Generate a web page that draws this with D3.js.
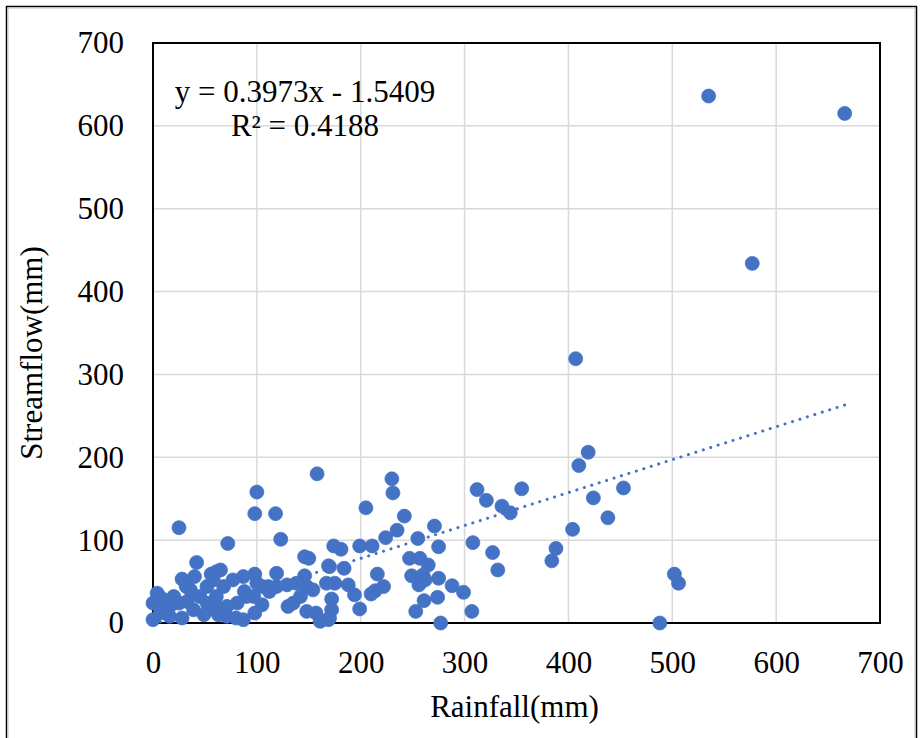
<!DOCTYPE html>
<html>
<head>
<meta charset="utf-8">
<script src="https://cdn.jsdelivr.net/npm/d3@7"></script>
<style>
  html, body { margin: 0; padding: 0; background: #fff; }
  svg, svg text { font-family: "Liberation Serif", "Times New Roman", serif !important; }
</style>
</head>
<body>
<div id="chart"></div>
<script>
// rainfall (mm)
const rainfall = [
  535, 666, 577, 407, 410, 419, 424, 438, 453, 404, 388, 384, 502, 506, 488, 355,
  230, 231, 205, 242, 235, 224, 271, 255, 275, 308, 312, 321, 336, 344, 327, 332,
  199, 211, 174, 181, 184, 170, 216, 222, 214, 210, 175, 188, 194, 199, 172, 172,
  170, 247, 257, 265, 249, 260, 262, 256, 275, 288, 299, 274, 261, 253, 307, 277,
  158, 100, 98, 118, 25, 72, 123, 42, 150, 146, 169, 119, 98, 65, 56, 40,
  28, 146, 100, 87, 77, 68, 58, 52, 32, 105, 111, 119, 129, 148, 154, 167,
  157, 148, 161, 169, 105, 98, 87, 90, 81, 71, 71, 60, 52, 49, 39, 28,
  25, 16, 16, 7, 0, 0, 4, 8, 12, 61, 36, 20, 45, 61, 97, 88,
  130, 135, 142, 138, 63, 80, 112, 33
];
// streamflow (mm), same order
const streamflow = [
  636, 615, 434, 319, 190, 206, 151, 127, 163, 113, 90, 75, 59, 48, 0, 162,
  174, 157, 139, 129, 112, 103, 117, 102, 92, 97, 161, 148, 141, 133, 85, 64,
  93, 93, 93, 89, 66, 68, 59, 44, 39, 35, 48, 46, 34, 17, 29, 16,
  6, 78, 78, 70, 57, 58, 52, 46, 54, 45, 37, 31, 27, 14, 14, 0,
  180, 158, 132, 132, 115, 96, 101, 73, 78, 80, 69, 60, 59, 64, 59, 56,
  53, 57, 48, 56, 52, 44, 52, 44, 44, 44, 44, 44, 46, 44, 40, 48,
  12, 14, 2, 4, 22, 12, 4, 32, 24, 20, 8, 16, 24, 10, 16, 6,
  24, 20, 8, 12, 4, 24, 36, 30, 16, 62, 40, 32, 32, 32, 32, 38,
  20, 24, 32, 48, 10, 6, 38, 26
];
const xTicks = [0, 100, 200, 300, 400, 500, 600, 700];
const yTicks = [0, 100, 200, 300, 400, 500, 600, 700];
const slope = 0.3973;
const intercept = -1.5409;
const eqLabel = "y = 0.3973x - 1.5409";
const r2Label = "R² = 0.4188";

const points = rainfall.map((r, i) => ({ x: r, y: streamflow[i] }));

const width = 923, height = 738;
const margin = { top: 43, right: 43, bottom: 115, left: 153 };
const blue = "#4472C4";
const serif = "'Liberation Serif', 'Times New Roman', serif";

const svg = d3.select("#chart").append("svg")
  .attr("width", width)
  .attr("height", height)
  .style("font-family", serif);

// outer frame
svg.append("rect")
  .attr("x", 6.5).attr("y", 6.5)
  .attr("width", 910).attr("height", 740)
  .attr("fill", "none").attr("stroke", "#000").attr("stroke-width", 1.5);
svg.append("rect")
  .attr("x", 8).attr("y", 8)
  .attr("width", 907).attr("height", 740)
  .attr("fill", "none").attr("stroke", "#bfbfbf").attr("stroke-width", 1);

const x = d3.scaleLinear().domain([0, 700]).range([margin.left, width - margin.right]);
const y = d3.scaleLinear().domain([0, 700]).range([height - margin.bottom, margin.top]);

// gridlines
svg.append("g").selectAll("line")
  .data(xTicks)
  .join("line")
  .attr("x1", d => x(d)).attr("x2", d => x(d))
  .attr("y1", y(0)).attr("y2", y(700))
  .attr("stroke", "#d9d9d9").attr("stroke-width", 1.5);
svg.append("g").selectAll("line")
  .data(yTicks)
  .join("line")
  .attr("x1", x(0)).attr("x2", x(700))
  .attr("y1", d => y(d)).attr("y2", d => y(d))
  .attr("stroke", "#d9d9d9").attr("stroke-width", 1.5);

// plot border
svg.append("rect")
  .attr("x", x(0)).attr("y", y(700))
  .attr("width", x(700) - x(0)).attr("height", y(0) - y(700))
  .attr("fill", "none").attr("stroke", "#000").attr("stroke-width", 2);

// axes (labels only, lines come from the border)
const xAxis = svg.append("g")
  .attr("transform", `translate(0,${y(0)})`)
  .call(d3.axisBottom(x).tickValues(xTicks).tickSize(0).tickPadding(28).tickFormat(d3.format("d")))
  .attr("font-family", null);
xAxis.select(".domain").remove();
xAxis.selectAll("text")
  .style("font-family", serif)
  .attr("font-size", 31).attr("fill", "#000");

const yAxis = svg.append("g")
  .attr("transform", `translate(${x(0)},0)`)
  .call(d3.axisLeft(y).tickValues(yTicks).tickSize(0).tickPadding(29).tickFormat(d3.format("d")))
  .attr("font-family", null);
yAxis.select(".domain").remove();
yAxis.selectAll("text")
  .style("font-family", serif)
  .attr("font-size", 31).attr("fill", "#000");

// points
svg.append("g").selectAll("circle")
  .data(points)
  .join("circle")
  .attr("cx", d => x(d.x))
  .attr("cy", d => y(d.y))
  .attr("r", 7)
  .attr("fill", blue)
  .attr("stroke", blue)
  .attr("stroke-width", 0.75);

// linear trendline over data range
const xExt = d3.extent(rainfall);
const trend = xExt.map(v => ({ x: v, y: slope * v + intercept }));
svg.append("path")
  .datum(trend)
  .attr("d", d3.line().x(d => x(d.x)).y(d => y(d.y)))
  .attr("fill", "none")
  .attr("stroke", blue)
  .attr("stroke-width", 3)
  .attr("stroke-linecap", "round")
  .attr("stroke-dasharray", "0.1 7.7");

// equation
svg.append("text")
  .attr("x", 305).attr("y", 102)
  .attr("text-anchor", "middle")
  .attr("font-size", 31)
  .style("font-family", serif)
  .text(eqLabel);
svg.append("text")
  .attr("x", 305).attr("y", 136)
  .attr("text-anchor", "middle")
  .attr("font-size", 31)
  .style("font-family", serif)
  .text(r2Label);

// axis titles
svg.append("text")
  .attr("x", (x(0) + x(700)) / 2 - 2).attr("y", 717)
  .attr("text-anchor", "middle")
  .attr("font-size", 31)
  .style("font-family", serif)
  .text("Rainfall(mm)");
svg.append("text")
  .attr("transform", `translate(42,${(y(0) + y(700)) / 2 + 20}) rotate(-90)`)
  .attr("text-anchor", "middle")
  .attr("font-size", 31)
  .style("font-family", serif)
  .text("Streamflow(mm)");
</script>
</body>
</html>
